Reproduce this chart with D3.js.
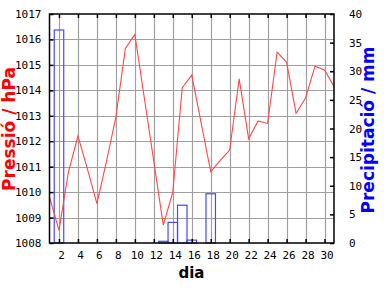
<!DOCTYPE html>
<html lang="ca">
<head>
<meta charset="utf-8">
<title>Pressió i precipitació</title>
<script src="https://cdn.jsdelivr.net/npm/d3@7"></script>
<style>
  body { margin: 0; background: #fff; }
  svg text { font-family: "DejaVu Sans Mono", monospace; font-size: 11px; }
</style>
</head>
<body>
<script>
// days of the month
var days = d3.range(1, 32);
// pressure, hPa, one value per day
var pressure = [1009.8, 1008.5, 1010.8, 1012.2, 1010.9, 1009.55, 1011.2, 1012.95, 1015.65, 1016.2,
                1013.7, 1011.2, 1008.7, 1010.0, 1014.1, 1014.6, 1012.7, 1010.8, 1011.25, 1011.65,
                1014.45, 1012.1, 1012.8, 1012.7, 1015.5, 1015.1, 1013.1, 1013.7, 1014.95, 1014.8, 1014.15];
// precipitation, mm, one value per day
var precip = [0, 37.2, 0, 0, 0, 0, 0, 0, 0, 0,
              0, 0, 0.3, 3.6, 6.6, 0.5, 0, 8.6, 0, 0,
              0, 0, 0, 0, 0, 0, 0, 0, 0, 0, 0];
var dayTicks = d3.range(2, 31, 2);
var pTicks = d3.range(1008, 1018, 1);
var rTicks = d3.range(0, 41, 5);

var W = 384, H = 288;
var pl = 49.5, pr = 334, pt = 14, pb = 243;

var svg = d3.select("body").append("svg")
    .attr("width", W).attr("height", H);

var x = d3.scaleLinear().domain([1, 31]).range([pl, pr]);
var yP = d3.scaleLinear().domain([1008, 1017]).range([pb, pt]);
var yR = d3.scaleLinear().domain([0, 40]).range([pb, pt]);

// grid
svg.append("g").selectAll("line").data(pTicks.slice(1, -1)).enter().append("line")
    .attr("x1", pl).attr("x2", pr)
    .attr("y1", function(d) { return Math.round(yP(d)) + 0.5; })
    .attr("y2", function(d) { return Math.round(yP(d)) + 0.5; })
    .attr("stroke", "#a0a0a0").attr("stroke-width", 1.2);
svg.append("g").selectAll("line").data(dayTicks).enter().append("line")
    .attr("x1", function(d) { return Math.round(x(d)) + 0.5; })
    .attr("x2", function(d) { return Math.round(x(d)) + 0.5; })
    .attr("y1", pt).attr("y2", pb)
    .attr("stroke", "#a0a0a0").attr("stroke-width", 1.2);

// precipitation bars
svg.append("g").selectAll("rect")
    .data(days.filter(function(d) { return precip[d - 1] > 0; }))
    .enter().append("rect")
    .attr("x", function(d) { return x(d - 0.5); })
    .attr("width", function(d) { return x(d + 0.5) - x(d - 0.5); })
    .attr("y", function(d) { return yR(precip[d - 1]); })
    .attr("height", function(d) { return pb - yR(precip[d - 1]); })
    .attr("fill", "none").attr("stroke", "#4848ff").attr("stroke-width", 1.2);

// pressure line
var line = d3.line()
    .x(function(d) { return x(d); })
    .y(function(d) { return yP(pressure[d - 1]); });
svg.append("path").datum(days)
    .attr("d", line)
    .attr("fill", "none").attr("stroke", "#ff4848").attr("stroke-width", 1.1);

// frame
svg.append("rect")
    .attr("x", pl).attr("y", pt)
    .attr("width", pr - pl).attr("height", pb - pt)
    .attr("fill", "none").attr("stroke", "#000").attr("stroke-width", 1.5);

// axes
var axL = svg.append("g").attr("transform", "translate(" + pl + ",0)")
    .call(d3.axisLeft(yP).tickValues(pTicks).tickFormat(d3.format("d")).tickSizeInner(-4).tickSizeOuter(0).tickPadding(8));
var axR = svg.append("g").attr("transform", "translate(" + pr + ",0)")
    .call(d3.axisRight(yR).tickValues(rTicks).tickSizeInner(-4).tickSizeOuter(0).tickPadding(15));
var axB = svg.append("g").attr("transform", "translate(0," + pb + ")")
    .call(d3.axisBottom(x).tickValues(dayTicks).tickSizeInner(-4).tickSizeOuter(0).tickPadding(8));
var axT = svg.append("g").attr("transform", "translate(0," + pt + ")")
    .call(d3.axisTop(x).tickValues(dayTicks).tickSizeInner(-4).tickSizeOuter(0).tickFormat(""));
[axL, axR, axB, axT].forEach(function(a) {
  a.select(".domain").remove();
  a.selectAll(".tick line").attr("stroke", "#000").attr("stroke-width", 1.5);
  a.selectAll(".tick text").attr("fill", "#000").style("font-size", "11px")
    .style("font-family", "'DejaVu Sans Mono', monospace");
});
axB.selectAll(".tick text").attr("dx", 2);

// titles
svg.append("text")
    .attr("transform", "translate(14.5,129) rotate(-90)")
    .attr("text-anchor", "middle")
    .style("font-family", "'DejaVu Sans', sans-serif").style("font-size", "17px")
    .style("font-weight", "bold")
    .attr("fill", "#ff0000")
    .text("Pressió / hPa");
svg.append("text")
    .attr("transform", "translate(374,130) rotate(-90)")
    .attr("text-anchor", "middle")
    .style("font-family", "'DejaVu Sans', sans-serif").style("font-size", "17px")
    .style("font-weight", "bold")
    .attr("fill", "#0000ff")
    .text("Precipitació / mm");
svg.append("text")
    .attr("x", 191.5).attr("y", 278)
    .attr("text-anchor", "middle")
    .style("font-family", "'DejaVu Sans', sans-serif").style("font-size", "15px")
    .style("font-weight", "bold")
    .attr("fill", "#000")
    .text("dia");
</script>
</body>
</html>
